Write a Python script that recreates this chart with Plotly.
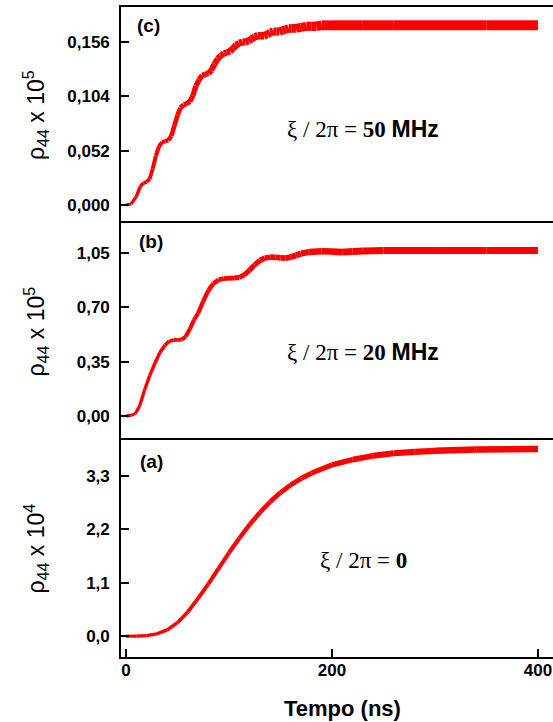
import plotly.graph_objects as go

# ---- data ----
t_a = [0, 10, 20, 30, 40, 50, 60, 70, 80, 90, 100, 110, 120, 130, 140, 150, 160, 170,
       180, 200, 220, 240, 260, 280, 300, 340, 400]
rho_a = [0.0, 0.003, 0.015, 0.05, 0.13, 0.28, 0.50, 0.78, 1.08, 1.40, 1.72, 2.02, 2.30,
         2.55, 2.77, 2.96, 3.12, 3.25, 3.36, 3.53, 3.64, 3.72, 3.77, 3.80, 3.82, 3.85, 3.86]

t_b = [0, 5, 9, 13, 18, 23, 28, 33, 38, 42, 46, 50, 54, 58, 62, 66, 70, 75, 80, 85, 90,
       95, 100, 105, 110, 115, 120, 125, 130, 135, 140, 145, 150, 155, 160, 165, 170, 178,
       190, 200, 210, 220, 230, 250, 300, 350, 400]
rho_b = [0.0, 0.004, 0.015, 0.06, 0.166, 0.26, 0.338, 0.41, 0.457, 0.482, 0.490, 0.490,
         0.492, 0.512, 0.56, 0.62, 0.661, 0.74, 0.81, 0.855, 0.878, 0.886, 0.888, 0.889,
         0.893, 0.910, 0.94, 0.975, 1.002, 1.018, 1.024, 1.023, 1.019, 1.018, 1.024, 1.035,
         1.047, 1.057, 1.062, 1.060, 1.056, 1.060, 1.064, 1.066, 1.067, 1.067, 1.067]

t_c = [0, 5, 10, 14, 17, 20, 23, 26, 29, 32, 35, 38, 41, 44, 47, 50, 53, 56, 59, 62, 65,
       68, 71, 74, 77, 80, 83, 86, 89, 92, 95, 98, 101, 104, 107, 110, 113, 116, 119, 122,
       125, 128, 131, 134, 137, 140, 143, 146, 149, 152, 155, 158, 161, 165, 170, 175, 180,
       185, 190, 200, 230, 260, 300, 350, 400]
rho_c = [0.000, 0.001, 0.008, 0.018, 0.021, 0.022, 0.025, 0.035, 0.047, 0.056, 0.060,
         0.061, 0.062, 0.066, 0.076, 0.086, 0.093, 0.096, 0.097, 0.099, 0.105, 0.114,
         0.120, 0.124, 0.125, 0.126, 0.129, 0.135, 0.140, 0.143, 0.145, 0.146, 0.147,
         0.150, 0.153, 0.155, 0.156, 0.156, 0.157, 0.159, 0.161, 0.162, 0.162, 0.162,
         0.163, 0.165, 0.166, 0.166, 0.166, 0.167, 0.168, 0.169, 0.169, 0.169, 0.170,
         0.171, 0.171, 0.171, 0.172, 0.172, 0.172, 0.172, 0.172, 0.172, 0.172]

ticks_a = [0.0, 1.1, 2.2, 3.3]
ticks_b = [0.0, 0.35, 0.70, 1.05]
ticks_c = [0.0, 0.052, 0.104, 0.156]
ticks_x = [0, 200, 400]

RED = "#FF0000"
fig = go.Figure()


def add_curve(x, y, xa, ya, w0, w1, xfull):
    # one trace per interval so the stroke thickens gradually along the curve
    for i in range(len(x) - 1):
        xm = 0.5 * (x[i] + x[i + 1])
        w = w0 + (w1 - w0) * min(1.0, xm / xfull)
        fig.add_trace(go.Scatter(x=x[i:i + 2], y=y[i:i + 2], mode="lines",
                                 line=dict(color=RED, width=w), xaxis=xa, yaxis=ya,
                                 showlegend=False, hoverinfo="skip"))


add_curve(t_a, rho_a, "x", "y", 3, 6.5, 300)
add_curve(t_b, rho_b, "x2", "y2", 3, 7, 220)
add_curve(t_c, rho_c, "x3", "y3", 3, 10, 200)

H0, H1 = 0.3338, 0.6677
xr = [-4.85, 414.6]
LW = 1.6
tickfont = dict(family="Arial, Liberation Sans", size=17, color="black", weight="bold")

fig.update_layout(
    width=553, height=722,
    margin=dict(l=121, r=0, t=7, b=65),
    plot_bgcolor="white", paper_bgcolor="white",
    separators=",.",
    xaxis=dict(domain=[0, 1], anchor="y", range=xr, tickvals=ticks_x, ticks="inside",
               ticklen=8, tickwidth=1.5, tickcolor="black", tickfont=tickfont,
               ticklabelstandoff=-3, showline=True, linecolor="black", linewidth=LW,
               mirror=True, showgrid=False, zeroline=False),
    xaxis2=dict(domain=[0, 1], anchor="y2", range=xr, side="top", showticklabels=False,
                ticks="", matches="x", showline=True, linecolor="black", linewidth=LW,
                showgrid=False, zeroline=False),
    xaxis3=dict(domain=[0, 1], anchor="y3", range=xr, side="top", showticklabels=False,
                ticks="", matches="x", showline=True, linecolor="black", linewidth=LW,
                showgrid=False, zeroline=False),
)

yax = dict(showline=True, linecolor="black", linewidth=LW, showgrid=False, zeroline=False,
           ticks="inside", ticklen=8, tickwidth=1.5, tickcolor="black", tickfont=tickfont,
           ticklabelstandoff=6)
fig.update_layout(
    yaxis=dict(domain=[0, H0], anchor="x", range=[-0.427, 4.043], tickvals=ticks_a,
               tickformat=".1f", **yax),
    yaxis2=dict(domain=[H0, H1], anchor="x2", range=[-0.155, 1.244], tickvals=ticks_b,
                tickformat=".2f", **yax),
    yaxis3=dict(domain=[H1, 1], anchor="x3", range=[-0.0172, 0.1895], tickvals=ticks_c,
                tickformat=".3f", **yax),
)

ann = []
lab_font = dict(family="Arial, Liberation Sans", size=19, color="black", weight="bold")
for txt, x, y in [("(c)", 0.0324, 0.9723), ("(b)", 0.037, 0.64), ("(a)", 0.039, 0.3015)]:
    ann.append(dict(text=txt, x=x, y=y, xref="paper", yref="paper", xanchor="left",
                    yanchor="middle", showarrow=False, font=lab_font))

ser = dict(family="Liberation Serif, Times New Roman", size=23, color="black")
mhz = "<span style='font-family:Arial, Liberation Sans;font-weight:bold'>MHz</span>"
for txt, x, y in [("ξ / 2π = <b>50</b> " + mhz, 0.3796, 0.8123),
                  ("ξ / 2π = <b>20</b> " + mhz, 0.3796, 0.469),
                  ("ξ / 2π = <b>0</b>", 0.456, 0.1477)]:
    ann.append(dict(text=txt, x=x, y=y, xref="paper", yref="paper", xanchor="left",
                    yanchor="middle", showarrow=False, font=ser))

yt_font = dict(family="Arial, Liberation Sans", size=23, color="black")
for txt, y in [("ρ<sub>44</sub> x 10<sup>5</sup>", (H1 + 1) / 2),
               ("ρ<sub>44</sub> x 10<sup>5</sup>", (H0 + H1) / 2),
               ("ρ<sub>44</sub> x 10<sup>4</sup>", H0 / 2)]:
    ann.append(dict(text=txt, x=-0.199, y=y, xref="paper", yref="paper", xanchor="center",
                    yanchor="middle", textangle=-90, showarrow=False, font=yt_font))

ann.append(dict(text="<b>Tempo (ns)</b>", x=0.5116, y=-0.0785, xref="paper", yref="paper",
                xanchor="center", yanchor="middle", showarrow=False,
                font=dict(family="Arial, Liberation Sans", size=22, color="black")))
fig.update_layout(annotations=ann)

fig.write_html("out.html")
